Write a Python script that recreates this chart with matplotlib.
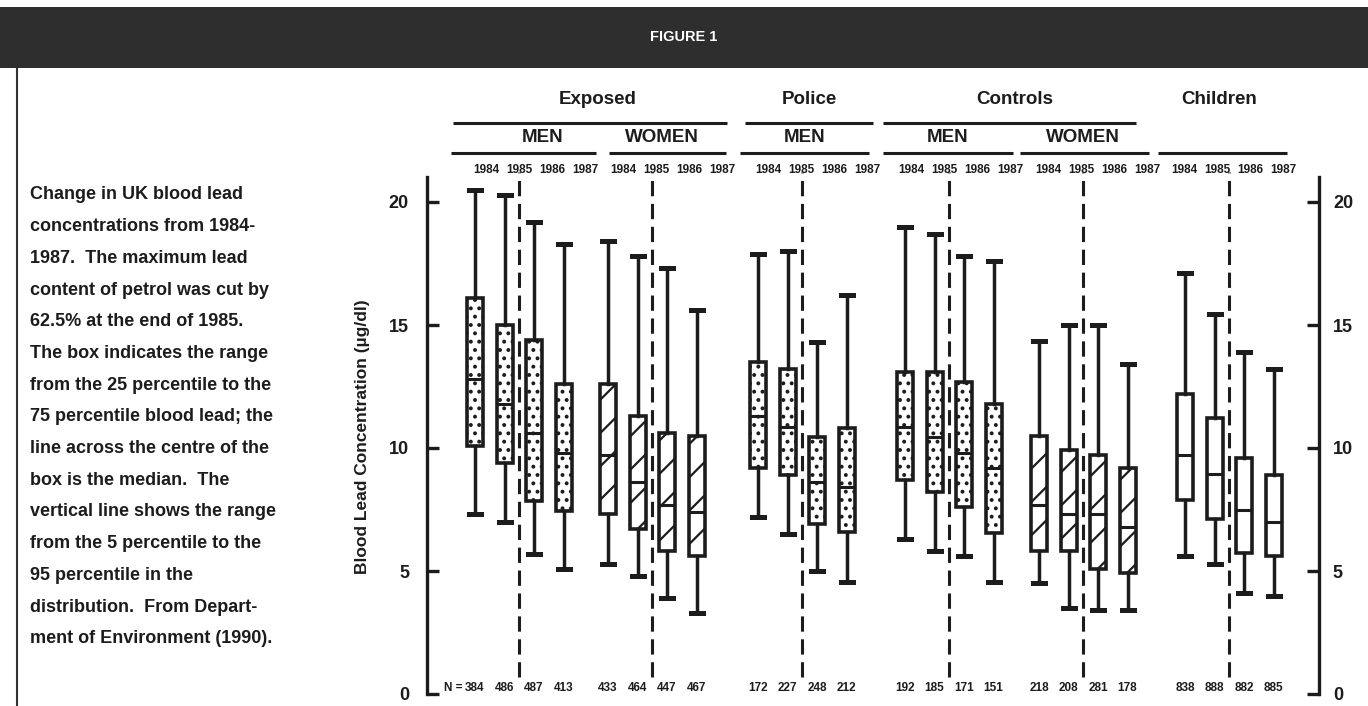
import matplotlib
matplotlib.use('Agg')
import matplotlib.pyplot as plt
from matplotlib.patches import Rectangle

# values: (5th, 25th, median, 75th, 95th percentile), ug/dl
years = ['1984', '1985', '1986', '1987']
exposed_men = [(7.3, 10.1, 12.8, 16.1, 20.5), (7.0, 9.4, 11.8, 15.0, 20.3),
               (5.7, 7.85, 10.6, 14.4, 19.2), (5.1, 7.45, 9.8, 12.6, 18.3)]
exposed_women = [(5.3, 7.3, 9.7, 12.6, 18.4), (4.8, 6.7, 8.6, 11.3, 17.8),
                 (3.9, 5.8, 7.7, 10.6, 17.3), (3.3, 5.6, 7.4, 10.5, 15.6)]
police_men = [(7.2, 9.2, 11.3, 13.5, 17.9), (6.5, 8.9, 10.85, 13.2, 18.0),
              (5.0, 6.9, 8.6, 10.45, 14.3), (4.55, 6.6, 8.4, 10.8, 16.2)]
controls_men = [(6.3, 8.7, 10.85, 13.1, 19.0), (5.8, 8.2, 10.45, 13.1, 18.7),
                (5.6, 7.6, 9.8, 12.7, 17.8), (4.55, 6.55, 9.2, 11.8, 17.6)]
controls_women = [(4.5, 5.8, 7.7, 10.5, 14.35), (3.5, 5.8, 7.3, 9.9, 15.0),
                  (3.4, 5.1, 7.3, 9.7, 15.0), (3.4, 4.9, 6.8, 9.2, 13.4)]
children = [(5.6, 7.9, 9.7, 12.2, 17.1), (5.3, 7.1, 8.95, 11.2, 15.45),
            (4.1, 5.75, 7.5, 9.6, 13.9), (4.0, 5.6, 7.0, 8.9, 13.2)]

n_exposed_men = ['384', '486', '487', '413']
n_exposed_women = ['433', '464', '447', '467']
n_police_men = ['172', '227', '248', '212']
n_controls_men = ['192', '185', '171', '151']
n_controls_women = ['218', '208', '281', '178']
n_children = ['838', '888', '882', '885']

caption = ["Change in UK blood lead",
           "concentrations from 1984-",
           "1987.  The maximum lead",
           "content of petrol was cut by",
           "62.5% at the end of 1985.",
           "The box indicates the range",
           "from the 25 percentile to the",
           "75 percentile blood lead; the",
           "line across the centre of the",
           "box is the median.  The",
           "vertical line shows the range",
           "from the 5 percentile to the",
           "95 percentile in the",
           "distribution.  From Depart-",
           "ment of Environment (1990)."]

plt.rcParams['font.family'] = ['Liberation Sans', 'DejaVu Sans']
plt.rcParams['font.weight'] = 'bold'
plt.rcParams['hatch.linewidth'] = 1.6
ink = '#1c1c1c'

W, H = 1368, 706
Y0, PX = 694, 24.6          # pixel row of 0 and pixels per ug/dl

def v(py):
    return (Y0 - py) / PX

fig = plt.figure(figsize=(W / 100, H / 100), dpi=100)
ax = fig.add_axes([0, 0, 1, 1])
ax.set_xlim(0, W)
ax.set_ylim(v(H), v(0))
ax.patch.set_alpha(0)

# groups: data, n, hatch, box start, year label start
groups = [(exposed_men, n_exposed_men, '..', 475, 473),
          (exposed_women, n_exposed_women, '/', 608, 610),
          (police_men, n_police_men, '..', 758, 755),
          (controls_men, n_controls_men, '..', 905, 898),
          (controls_women, n_controls_women, '/', 1039, 1035),
          (children, n_children, None, 1185, 1171)]
step = 29.5

for data, ns, hatch, x0, yx0 in groups:
    pos = [x0 + i * step for i in range(len(data))]
    stats = [dict(whislo=d[0], q1=d[1], med=d[2], q3=d[3], whishi=d[4], fliers=[])
             for d in data]
    # 1985/1986 break: petrol lead cut
    ax.vlines((pos[1] + pos[2]) / 2, 0.7, 21.2, colors=ink, lw=2.2,
              linestyles=(0, (5, 2.5)), zorder=1)
    ax.bxp(stats, positions=pos, widths=16, capwidths=12, patch_artist=True,
           showfliers=False, manage_ticks=False,
           boxprops=dict(facecolor='white', edgecolor=ink, linewidth=2.6, hatch=hatch),
           whiskerprops=dict(color=ink, linewidth=2.5),
           capprops=dict(color=ink, linewidth=3.6),
           medianprops=dict(color=ink, linewidth=2.2), zorder=3)
    for i, yr in enumerate(years):
        ax.text(yx0 + i * 33, v(170), yr, ha='left', va='center', fontsize=8.5, color=ink)
    for p, n in zip(pos, ns):
        ax.text(p, v(688), n, ha='center', va='center', fontsize=8.5, color=ink)
ax.text(462, v(688), 'N =', ha='right', va='center', fontsize=8.5, color=ink)

# group headers and rules
for name, x in zip(['Exposed', 'Police', 'Controls', 'Children'], [598, 809, 1015, 1219]):
    ax.text(x, v(100), name, ha='center', va='center', fontsize=13.5, color=ink)
for a, b in [(453, 727), (745, 873), (883, 1136)]:
    ax.hlines(v(123), a, b, colors=ink, lw=2.2)
for name, x in [('MEN', 543), ('WOMEN', 662), ('MEN', 805), ('MEN', 948), ('WOMEN', 1083)]:
    ax.text(x, v(138), name, ha='center', va='center', fontsize=13.5, color=ink)
for a, b in [(451, 596), (609, 726), (740, 869), (883, 1013), (1020, 1149), (1158, 1287)]:
    ax.hlines(v(153), a, b, colors=ink, lw=2.2)

# left scale
ax.xaxis.set_visible(False)
for s in ['top', 'bottom', 'right']:
    ax.spines[s].set_visible(False)
ax.spines['left'].set_position(('data', 427))
ax.spines['left'].set_bounds(0, 21)
ax.spines['left'].set_linewidth(2.4)
ax.spines['left'].set_color(ink)
ax.set_yticks([0, 5, 10, 15, 20])
ax.tick_params(axis='y', direction='in', length=8.6, width=2.4, pad=13,
               labelsize=13, colors=ink)
ax.text(362, v(437), 'Blood Lead Concentration (\u00b5g/dl)', rotation=90,
        ha='center', va='center', fontsize=12.5, color=ink)

# right scale
ax2 = ax.twinx()
ax2.set_ylim(ax.get_ylim())
for s in ['top', 'bottom', 'left']:
    ax2.spines[s].set_visible(False)
ax2.spines['right'].set_position(('data', 1319))
ax2.spines['right'].set_bounds(0, 21)
ax2.spines['right'].set_linewidth(2.4)
ax2.spines['right'].set_color(ink)
ax2.set_yticks([0, 5, 10, 15, 20])
ax2.tick_params(axis='y', direction='in', length=8.6, width=2.4, pad=10,
                labelsize=13, colors=ink)

# banner, border and caption
fig.add_artist(Rectangle((0, 1 - 68 / H), 1, 61 / H, transform=fig.transFigure,
                         facecolor='#2e2e2e', edgecolor='none'))
fig.text(684 / W, 1 - 37 / H, 'FIGURE 1', ha='center', va='center', color='white',
         fontsize=10.5)
fig.add_artist(plt.Line2D([17 / W, 17 / W], [0, 1 - 68 / H], transform=fig.transFigure,
                          color='#333333', lw=1.5))
for i, line in enumerate(caption):
    fig.text(30 / W, 1 - (195 + 31.7 * i) / H, line, ha='left', va='center',
             fontsize=13, color=ink)

fig.savefig('out.png', dpi=100)
